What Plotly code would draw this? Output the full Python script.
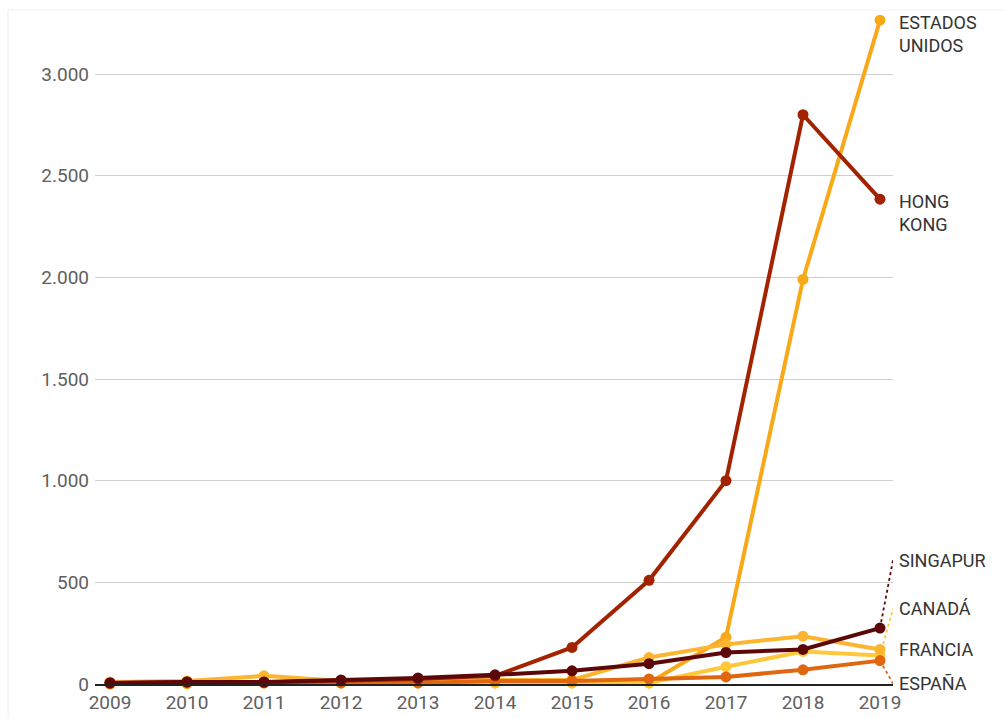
import plotly.graph_objects as go

years = [2009, 2010, 2011, 2012, 2013, 2014, 2015, 2016, 2017, 2018, 2019]

estados_unidos = [0, 2, 5, 5, 5, 5, 5, 5, 230, 1990, 3265]
hong_kong = [5, 10, 8, 15, 25, 40, 180, 510, 1000, 2800, 2385]
singapur = [5, 10, 10, 20, 30, 45, 65, 100, 155, 170, 275]
canada = [5, 5, 10, 5, 5, 5, 5, 5, 85, 160, 140]
francia = [10, 15, 40, 15, 15, 20, 20, 130, 195, 235, 170]
espana = [2, 5, 5, 5, 5, 15, 15, 25, 35, 70, 115]

y_ticks = [0, 500, 1000, 1500, 2000, 2500, 3000]

# (name, values, colour, label lines, pixel shift of label, leader?)
series = [
    ("Estados Unidos", estados_unidos, "#F9A817", "ESTADOS<br>UNIDOS", -14, False),
    ("Canadá", canada, "#FFC83A", "CANADÁ", 47, True),
    ("Francia", francia, "#FDB42E", "FRANCIA", 0, False),
    ("España", espana, "#E0660F", "ESPAÑA", -23, True),
    ("Hong Kong", hong_kong, "#A32200", "HONG<br>KONG", -14, False),
    ("Singapur", singapur, "#5C0808", "SINGAPUR", 68, True),
]

L, R, T, B = 95, 111, 0, 34
W, H = 1004, 718
plot_w = W - L - R
plot_h = H - T - B
px_per_year = 77.0
x_min = years[0] - (110 - L) / px_per_year
x_max = x_min + plot_w / px_per_year
px_per_unit = 0.2033
y_max = plot_h / px_per_unit

fig = go.Figure()
for name, vals, col, lab, shift, leader in series:
    fig.add_trace(go.Scatter(
        x=years, y=vals, name=name, mode="lines+markers",
        line=dict(color=col, width=4),
        marker=dict(color=col, size=11),
        cliponaxis=False, showlegend=False,
    ))

annotations = []
shapes = []
label_x = 1 + 4 / plot_w
for name, vals, col, lab, shift, leader in series:
    last = vals[-1]
    label_y = last + shift / px_per_unit
    annotations.append(dict(
        x=label_x, y=label_y, xref="paper", yref="y", text=lab,
        showarrow=False, xanchor="left", yanchor="middle", align="left",
        font=dict(family="Roboto", size=18, color="#333333"),
    ))
    if leader:
        shapes.append(dict(
            type="line", xref="x", yref="y",
            x0=years[-1], y0=last, x1=x_max, y1=label_y,
            line=dict(color=col, width=1.8, dash="dot"), layer="below",
        ))

# faint frame of the original screenshot
shapes.append(dict(type="line", xref="paper", yref="paper",
                   x0=(8 - L) / plot_w, x1=(8 - L) / plot_w,
                   y0=-(B) / plot_h, y1=(plot_h - 10) / plot_h,
                   line=dict(color="#eeeeee", width=1)))
shapes.append(dict(type="line", xref="paper", yref="paper",
                   x0=(8 - L) / plot_w, x1=1 + R / plot_w,
                   y0=(plot_h - 10) / plot_h, y1=(plot_h - 10) / plot_h,
                   line=dict(color="#eeeeee", width=1)))

fig.update_layout(
    width=W, height=H,
    margin=dict(l=L, r=R, t=T, b=B, pad=0),
    paper_bgcolor="white", plot_bgcolor="white",
    separators=",.",
    font=dict(family="Roboto", size=19, color="#666666"),
    annotations=annotations, shapes=shapes,
    xaxis=dict(
        range=[x_min, x_max], tickvals=years, ticktext=[str(y) for y in years],
        showgrid=False, zeroline=False, showline=True, linecolor="#222222",
        linewidth=1.5, ticks="", tickfont=dict(size=19, color="#606060"),
        ticklabelstandoff=0,
    ),
    yaxis=dict(
        range=[0, y_max], tickvals=y_ticks, tickformat=",.0f",
        showgrid=True, gridcolor="#cfcfcf", gridwidth=1, zeroline=False,
        ticks="", tickfont=dict(size=19, color="#606060"),
        ticklabelstandoff=5,
    ),
)

fig.write_html("out.html")
